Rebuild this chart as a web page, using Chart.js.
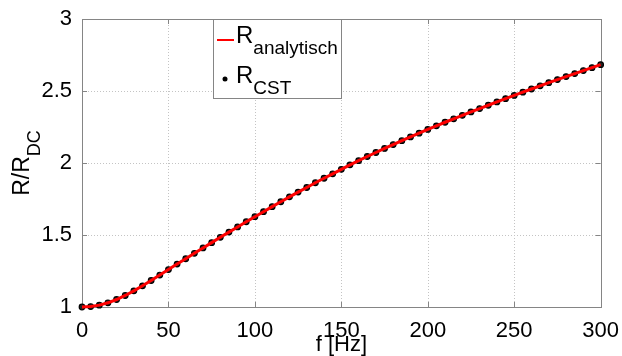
<!DOCTYPE html>
<html>
<head>
<meta charset="utf-8">
<script src="https://cdn.jsdelivr.net/npm/chart.js@4"></script>
<style>
  html, body { margin: 0; padding: 0; background: #fff; }
</style>
</head>
<body>
<canvas id="grafik" width="622" height="356"></canvas>
<script>
// Frequenz in Hz
const frequenz = [0, 5, 10, 15, 20, 25, 30, 35, 40, 45, 50, 55, 60, 65, 70, 75, 80, 85, 90, 95,
  100, 105, 110, 115, 120, 125, 130, 135, 140, 145, 150, 155, 160, 165, 170, 175, 180, 185, 190, 195,
  200, 205, 210, 215, 220, 225, 230, 235, 240, 245, 250, 255, 260, 265, 270, 275, 280, 285, 290, 295, 300];

// R/R_DC analytisch
const rAnalytisch = [1.000, 1.003, 1.013, 1.029, 1.052, 1.080, 1.112, 1.147, 1.184, 1.222,
  1.260, 1.298, 1.335, 1.373, 1.410, 1.447, 1.484, 1.520, 1.556, 1.592,
  1.627, 1.662, 1.697, 1.731, 1.765, 1.798, 1.830, 1.863, 1.894, 1.925,
  1.956, 1.987, 2.016, 2.045, 2.073, 2.101, 2.128, 2.155, 2.181, 2.207,
  2.233, 2.258, 2.283, 2.307, 2.331, 2.355, 2.378, 2.401, 2.424, 2.447,
  2.469, 2.492, 2.514, 2.536, 2.558, 2.579, 2.600, 2.621, 2.642, 2.662, 2.683];

// R/R_DC aus CST-Simulation
const rCst = [1.000, 1.003, 1.013, 1.029, 1.052, 1.080, 1.112, 1.147, 1.184, 1.222,
  1.260, 1.298, 1.335, 1.373, 1.410, 1.447, 1.484, 1.520, 1.556, 1.592,
  1.627, 1.662, 1.697, 1.731, 1.765, 1.798, 1.830, 1.863, 1.894, 1.925,
  1.956, 1.987, 2.016, 2.045, 2.073, 2.101, 2.128, 2.155, 2.181, 2.207,
  2.233, 2.258, 2.283, 2.307, 2.331, 2.355, 2.378, 2.401, 2.424, 2.447,
  2.469, 2.492, 2.514, 2.536, 2.558, 2.579, 2.600, 2.621, 2.642, 2.662, 2.683];

const xTicks = [0, 50, 100, 150, 200, 250, 300];
const yTicks = [1, 1.5, 2, 2.5, 3];

const schrift = '"Liberation Sans", Arial, sans-serif';
const rahmenFarbe = '#858585';

// Gitter, Rahmen und nach innen zeigende Ticks
const rahmen = {
  id: 'rahmen',
  beforeDatasetsDraw(chart) {
    const { ctx, chartArea: a, scales: { x, y } } = chart;
    ctx.save();
    ctx.lineWidth = 1;
    ctx.strokeStyle = '#c4c4c4';
    ctx.setLineDash([1, 2]);
    xTicks.forEach(v => {
      const px = Math.round(x.getPixelForValue(v)) + 0.5;
      ctx.beginPath(); ctx.moveTo(px, a.top); ctx.lineTo(px, a.bottom); ctx.stroke();
    });
    yTicks.forEach(v => {
      const py = Math.round(y.getPixelForValue(v)) + 0.5;
      ctx.beginPath(); ctx.moveTo(a.left, py); ctx.lineTo(a.right, py); ctx.stroke();
    });
    ctx.setLineDash([]);
    ctx.strokeStyle = rahmenFarbe;
    ctx.strokeRect(Math.round(a.left) + 0.5, Math.round(a.top) + 0.5,
      Math.round(a.right - a.left), Math.round(a.bottom - a.top));
    const len = 5;
    xTicks.forEach(v => {
      const px = Math.round(x.getPixelForValue(v)) + 0.5;
      ctx.beginPath();
      ctx.moveTo(px, a.bottom); ctx.lineTo(px, a.bottom - len);
      ctx.moveTo(px, a.top); ctx.lineTo(px, a.top + len);
      ctx.stroke();
    });
    yTicks.forEach(v => {
      const py = Math.round(y.getPixelForValue(v)) + 0.5;
      ctx.beginPath();
      ctx.moveTo(a.left, py); ctx.lineTo(a.left + len, py);
      ctx.moveTo(a.right, py); ctx.lineTo(a.right - len, py);
      ctx.stroke();
    });
    ctx.restore();
  }
};

// Achsenbeschriftung y mit Index
const yTitel = {
  id: 'yTitel',
  afterDraw(chart) {
    const { ctx, chartArea: a } = chart;
    const gross = '23px ' + schrift, klein = '18px ' + schrift;
    ctx.save();
    ctx.font = gross; const w1 = ctx.measureText('R/R').width;
    ctx.font = klein; const w2 = ctx.measureText('DC').width;
    ctx.translate(29, (a.top + a.bottom) / 2);
    ctx.rotate(-Math.PI / 2);
    ctx.fillStyle = '#000';
    ctx.textBaseline = 'alphabetic';
    ctx.font = gross; ctx.fillText('R/R', -(w1 + w2) / 2, 0);
    ctx.font = klein; ctx.fillText('DC', -(w1 + w2) / 2 + w1, 11);
    ctx.restore();
  }
};

// Legende im MATLAB-Stil
const legende = {
  id: 'legende',
  afterDraw(chart) {
    const { ctx, chartArea: a } = chart;
    const lx = Math.round(a.left) + 131, ty = Math.round(a.top);
    const gross = '24px ' + schrift, klein = '19px ' + schrift;
    ctx.save();
    ctx.fillStyle = '#fff';
    ctx.fillRect(lx + 0.5, ty + 0.5, 128, 79);
    ctx.strokeStyle = rahmenFarbe;
    ctx.lineWidth = 1;
    ctx.strokeRect(lx + 0.5, ty + 0.5, 128, 79);

    ctx.strokeStyle = '#ff0000';
    ctx.lineWidth = 2;
    ctx.beginPath(); ctx.moveTo(lx + 4, ty + 21); ctx.lineTo(lx + 21, ty + 21); ctx.stroke();

    ctx.fillStyle = '#000';
    ctx.beginPath(); ctx.arc(lx + 12, ty + 60, 2.5, 0, Math.PI * 2); ctx.fill();

    ctx.textBaseline = 'alphabetic';
    ctx.font = gross;
    const wR = ctx.measureText('R').width;
    ctx.fillText('R', lx + 23, ty + 24);
    ctx.fillText('R', lx + 23, ty + 64);
    ctx.font = klein;
    ctx.fillText('analytisch', lx + 23 + wR, ty + 35);
    ctx.fillText('CST', lx + 23 + wR, ty + 75);
    ctx.restore();
  }
};

const punkte = (werte) => frequenz.map((f, i) => ({ x: f, y: werte[i] }));

new Chart(document.getElementById('grafik'), {
  type: 'line',
  data: {
    datasets: [{
      label: 'R analytisch',
      data: punkte(rAnalytisch),
      borderColor: '#ff0000',
      borderWidth: 3,
      pointRadius: 0,
      tension: 0,
      clip: false
    }, {
      label: 'R CST',
      data: punkte(rCst),
      showLine: false,
      pointRadius: 2.8,
      pointBackgroundColor: '#222',
      pointBorderColor: '#000',
      pointBorderWidth: 1.2,
      clip: false
    }]
  },
  options: {
    responsive: false,
    animation: false,
    layout: { padding: { top: 19, right: 21, left: 0, bottom: 0 } },
    plugins: { legend: { display: false }, tooltip: { enabled: false } },
    scales: {
      x: {
        type: 'linear',
        min: 0, max: 300,
        afterBuildTicks: s => { s.ticks = xTicks.map(v => ({ value: v })); },
        afterFit: s => { s.height = 49; },
        grid: { display: false },
        border: { display: false },
        ticks: {
          color: '#000', font: { family: schrift, size: 22 }, padding: 3, maxRotation: 0,
          callback: v => String(v)
        },
        title: {
          display: true, text: 'f [Hz]', color: '#000',
          font: { family: schrift, size: 22, lineHeight: 1 },
          padding: { top: 0, bottom: 0 }
        }
      },
      y: {
        min: 1, max: 3,
        afterBuildTicks: s => { s.ticks = yTicks.map(v => ({ value: v })); },
        afterFit: s => { s.width = 82; },
        grid: { display: false },
        border: { display: false },
        ticks: {
          color: '#000', font: { family: schrift, size: 22 }, padding: 2,
          callback: v => String(v)
        }
      }
    }
  },
  plugins: [rahmen, yTitel, legende]
});
</script>
</body>
</html>
